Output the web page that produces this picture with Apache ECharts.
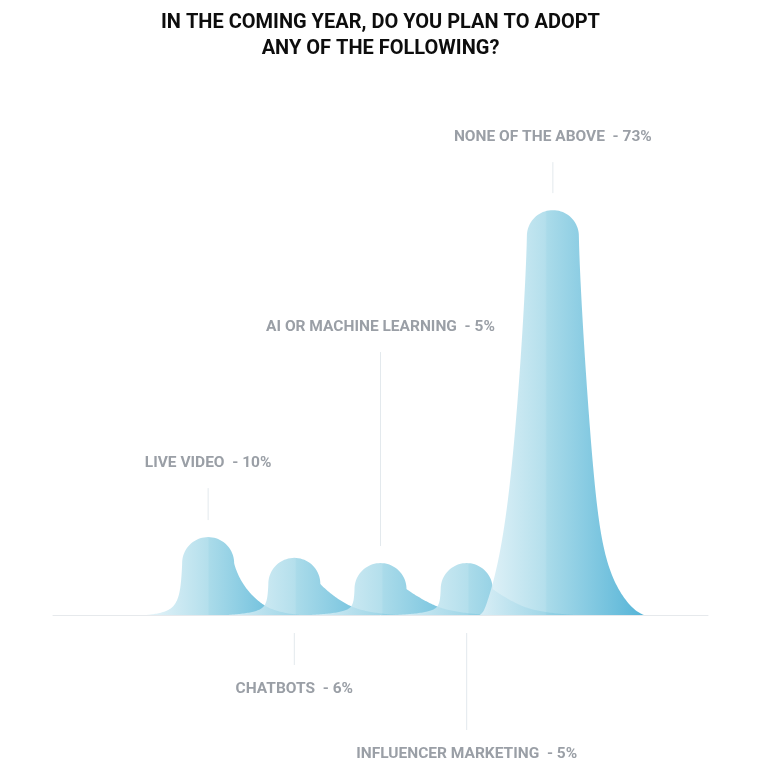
<!DOCTYPE html>
<html>
<head>
<meta charset="utf-8">
<style>
  html, body { margin: 0; padding: 0; background: #fff; }
  #chart { width: 761px; height: 767px; }
</style>
<script src="https://cdn.jsdelivr.net/npm/echarts@6/dist/echarts.min.js"></script>
</head>
<body>
<div id="chart"></div>
<script>
// 数据
var categories = ['LIVE VIDEO', 'CHATBOTS', 'AI OR MACHINE LEARNING', 'INFLUENCER MARKETING', 'NONE OF THE ABOVE'];
var percents = [10, 6, 5, 5, 73];

// 标签位置（上/下）和引线长度
var labelSide = ['top', 'bottom', 'top', 'bottom', 'top'];
var leaderLen = [32, 32, 194, 97, 31];

var DOME_R = 26;
var LABEL_COLOR = '#9a9fa6';
var LINE_COLOR = '#e3e9ed';

// 山峰一侧的半宽
var halfWidth = function(h, hd, side){
    var k = Math.pow(hd / 52, 0.2);
    var taper = 0.07 * hd * Math.pow(Math.max(0, 1 - h / hd), 1.3);
    var extra;
    if( side == 'left' ){
        extra = 14 / Math.pow(k, 4) * Math.exp(-h / 2) + 18 * Math.exp(-h / (8 * hd / 52));
    }else{
        extra = 20 / Math.pow(k, 4) * Math.exp(-h / 3) + 42 / Math.sqrt(k) * Math.exp(-h / (22 * k));
    }
    // 和圆顶接上，不留台阶
    extra = extra * (1 - Math.pow(h / hd, 3));
    return DOME_R + extra + taper;
};

var renderItem = function(params, api){
    var i = api.value(0);
    var top = api.coord([i, api.value(1)]);
    var base = api.coord([i, 0]);
    var cx = top[0], by = base[1];
    var hd = by - top[1];
    var pts = [];
    var N = 80, s, h;
    for( s = 0; s <= N; s++ ){
        h = hd * Math.pow(s / N, 2);
        pts.push([cx - halfWidth(h, hd, 'left'), by - h]);
    }
    for( s = 1; s < 40; s++ ){
        var a = Math.PI - Math.PI * s / 40;
        pts.push([cx + DOME_R * Math.cos(a), by - hd - DOME_R * Math.sin(a)]);
    }
    for( s = N; s >= 0; s-- ){
        h = hd * Math.pow(s / N, 2);
        pts.push([cx + halfWidth(h, hd, 'right'), by - h]);
    }

    var domeTop = by - hd - DOME_R;
    var len = leaderLen[i];
    var y1, y2, ty;
    if( labelSide[i] == 'top' ){
        y1 = domeTop - 17;
        y2 = y1 - len;
        ty = y2 - 25;
    }else{
        y1 = by + 18;
        y2 = y1 + len;
        ty = y2 + 24;
    }

    return {
        type: 'group',
        children: [
            {
                type: 'polygon',
                shape: { points: pts },
                style: {
                    fill: new echarts.graphic.LinearGradient(0, 0, 1, 0, [
                        { offset: 0, color: '#e2f2f8' },
                        { offset: 0.4, color: '#a8dae9' },
                        { offset: 0.41, color: '#9cd5e6' },
                        { offset: 1, color: '#3aa8d1' }
                    ]),
                    opacity: 0.86
                }
            },
            {
                type: 'line',
                shape: { x1: cx, y1: y1, x2: cx, y2: y2 },
                style: { stroke: LINE_COLOR, lineWidth: 1 }
            },
            {
                type: 'text',
                x: cx,
                y: ty,
                style: {
                    text: categories[i] + '  - ' + percents[i] + '%',
                    fill: LABEL_COLOR,
                    font: 'bold 15.5px Roboto',
                    align: 'center',
                    verticalAlign: 'middle'
                }
            }
        ]
    };
};

var seriesData = [];
for( var n = 0; n < percents.length; n++ ){
    seriesData.push([n, percents[n]]);
}

var option = {
    backgroundColor: '#fff',
    animation: false,
    title: {
        text: 'IN THE COMING YEAR, DO YOU PLAN TO ADOPT\nANY OF THE FOLLOWING?',
        left: 'center',
        top: 5,
        textStyle: {
            fontFamily: 'Roboto',
            fontSize: 20,
            fontWeight: 'bold',
            color: '#0d0d0d',
            lineHeight: 26
        }
    },
    grid: { left: 53, right: 53, top: 96, bottom: 152 },
    xAxis: {
        type: 'value',
        min: -1.8,
        max: 5.8,
        splitLine: { show: false },
        axisTick: { show: false },
        axisLabel: { show: false },
        axisLine: { show: true, lineStyle: { color: '#e6e9ec', width: 1 } }
    },
    yAxis: {
        type: 'value',
        min: 0,
        max: 100,
        show: false
    },
    series: [
        {
            type: 'custom',
            clip: false,
            renderItem: renderItem,
            data: seriesData
        }
    ]
};

var myChart = echarts.init(document.getElementById('chart'));
myChart.setOption(option);
</script>
</body>
</html>
